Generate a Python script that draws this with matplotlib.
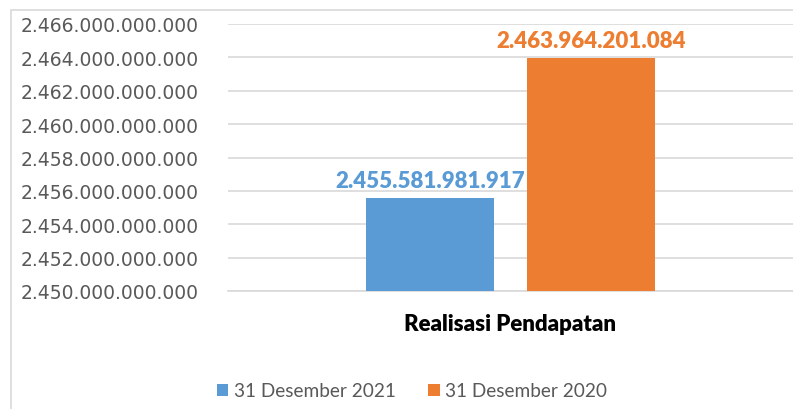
import matplotlib.pyplot as plt
from matplotlib.patches import Rectangle
from matplotlib.ticker import FuncFormatter, MultipleLocator

# data
kategori = ['Realisasi Pendapatan']
periode = ['31 Desember 2021', '31 Desember 2020']
nilai = [2455581981917, 2463964201084]
warna = ['#5B9BD5', '#ED7D31']

y_min, y_max, y_step = 2450000000000, 2466000000000, 2000000000

W, H = 793, 410
fig = plt.figure(figsize=(W / 100, H / 100), dpi=100)
ax = fig.add_axes([228 / W, 1 - 292 / H, (793 - 228) / W, (292 - 25) / H])

# bingkai chart (kiri dan atas saja yang kelihatan)
fig.patches.append(Rectangle((11 / W, -0.1), 1.2, 1 - 11 / H + 0.1, transform=fig.transFigure,
                             fill=False, edgecolor='#D9D9D9', linewidth=1.2))


def format_titik(v, pos=None):
    return f"{v:,.0f}".replace(",", ".")


offset = [-0.285, 0.285]
lebar = 0.452
for i, (nama, v) in enumerate(zip(periode, nilai)):
    ax.bar(offset[i], v - y_min, width=lebar, bottom=y_min, color=warna[i], label=nama, zorder=3)
    ax.annotate(format_titik(v), (offset[i], v), xytext=(0, 5), textcoords='offset points',
                ha='center', va='bottom', color=warna[i], fontsize=16, fontweight='heavy',
                family='Lato')

ax.set_xlim(-1, 1)
ax.set_ylim(y_min, y_max)
ax.yaxis.set_major_locator(MultipleLocator(y_step))
ax.yaxis.set_major_formatter(FuncFormatter(format_titik))
ax.grid(axis='y', color='#D9D9D9', linewidth=1.2, zorder=0)
ax.tick_params(axis='y', length=0, pad=21, labelsize=13.5, labelcolor='#595959')
ax.set_xticks([0])
ax.set_xticklabels(kategori, fontsize=16, fontweight='heavy', family='Lato')
ax.tick_params(axis='x', length=0, pad=16)
for s in ['top', 'right', 'left']:
    ax.spines[s].set_visible(False)
ax.spines['bottom'].set_color('#D9D9D9')
ax.spines['bottom'].set_linewidth(1.2)

leg = fig.legend(loc='center', bbox_to_anchor=(412 / W, 1 - 392 / H), ncol=2, frameon=False,
                 handlelength=0.6, handleheight=0.6, handletextpad=0.3, columnspacing=1.7,
                 prop={'family': 'Lato', 'size': 13.7})
for t in leg.get_texts():
    t.set_color('#595959')

fig.savefig('out.png', dpi=100)
